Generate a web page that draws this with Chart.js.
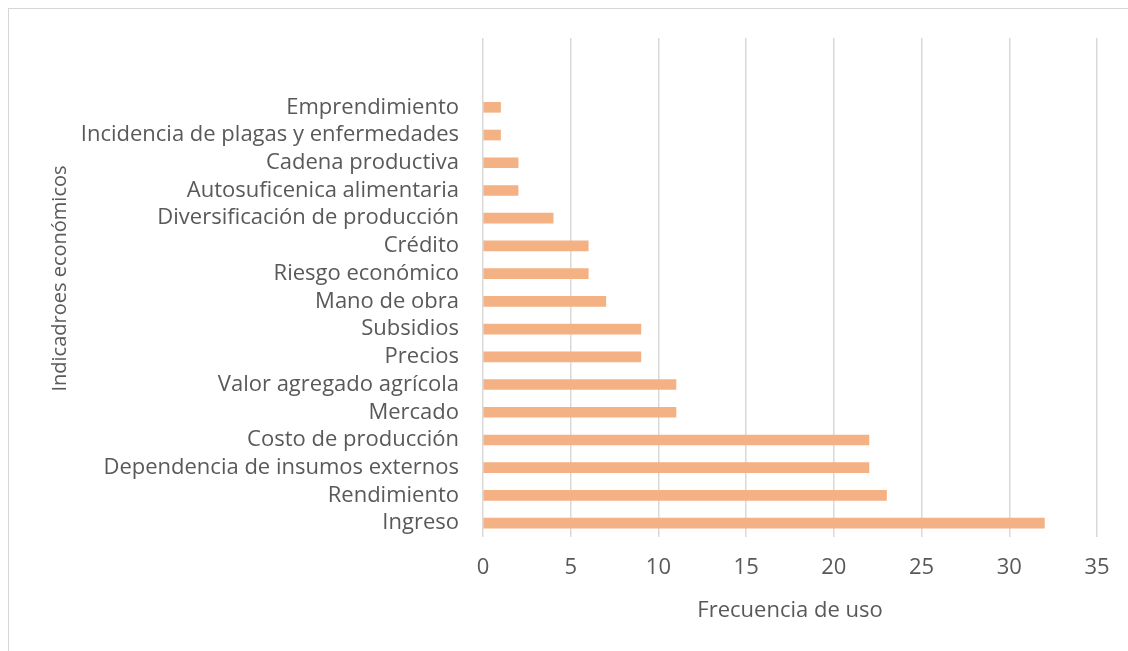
<!DOCTYPE html>
<html lang="es">
<head>
<meta charset="utf-8">
<title>Indicadores económicos – Frecuencia de uso</title>
<script src="https://cdn.jsdelivr.net/npm/chart.js@4.4.1/dist/chart.umd.min.js"></script>
<style>
  html, body { margin: 0; padding: 0; background: #fff; overflow: hidden; }
  .frame {
    position: absolute; left: 8px; top: 8px;
    width: 1200px; height: 700px;
    border-top: 1px solid #d6d6d6; border-left: 1px solid #d6d6d6;
  }
  #chart { position: absolute; left: 0; top: 0; }
</style>
</head>
<body>
<div class="frame"></div>
<canvas id="chart" width="1128" height="651"></canvas>
<script>
// Indicators, listed top to bottom as they appear on the vertical axis
const categories = [
  'Emprendimiento',
  'Incidencia de plagas y enfermedades',
  'Cadena productiva',
  'Autosuficenica alimentaria',
  'Diversificación de producción',
  'Crédito',
  'Riesgo económico',
  'Mano de obra',
  'Subsidios',
  'Precios',
  'Valor agregado agrícola',
  'Mercado',
  'Costo de producción',
  'Dependencia de insumos externos',
  'Rendimiento',
  'Ingreso'
];

// Frequency of use for each indicator
const frecuencia = [1, 1, 2, 2, 4, 6, 6, 7, 9, 9, 11, 11, 22, 22, 23, 32];

// Horizontal axis ticks
const xTicks = [0, 5, 10, 15, 20, 25, 30, 35];

// Two empty rows sit above the first indicator in the plot area
const blankRows = 2;
const labels = Array(blankRows).fill('').concat(categories);
const values = Array(blankRows).fill(null).concat(frecuencia);

const FONT = '"Open Sans", "Noto Sans", sans-serif';
const TEXT = '#595959';
const Y_TITLE = 'Indicadroes económicos';

// Vertical axis title, drawn rotated a little above the plot's middle
const yTitlePlugin = {
  id: 'yTitle',
  afterDraw(chart) {
    const { ctx, chartArea } = chart;
    ctx.save();
    ctx.translate(60, (chartArea.top + chartArea.bottom) / 2 - 9);
    ctx.rotate(-Math.PI / 2);
    ctx.font = '20px ' + FONT;
    ctx.fillStyle = TEXT;
    ctx.textAlign = 'center';
    ctx.textBaseline = 'middle';
    ctx.fillText(Y_TITLE, 0, 0);
    ctx.restore();
  }
};

new Chart(document.getElementById('chart'), {
  type: 'bar',
  data: {
    labels: labels,
    datasets: [{
      data: values,
      backgroundColor: '#F4B183',
      borderWidth: 0,
      barThickness: 10
    }]
  },
  options: {
    indexAxis: 'y',
    responsive: false,
    animation: false,
    layout: { padding: { top: 38, right: 31, bottom: 0, left: 0 } },
    plugins: { legend: { display: false }, tooltip: { enabled: false } },
    scales: {
      x: {
        type: 'linear',
        min: xTicks[0],
        max: xTicks[xTicks.length - 1],
        afterBuildTicks: s => { s.ticks = xTicks.map(v => ({ value: v })); },
        afterFit: s => { s.height = 114; },
        grid: { color: '#d9d9d9', lineWidth: 1.5, drawTicks: false },
        border: { display: false },
        ticks: { color: TEXT, padding: 18, font: { family: FONT, size: 22 } },
        title: {
          display: true,
          text: 'Frecuencia de uso',
          color: TEXT,
          font: { family: FONT, size: 22 },
          padding: { top: 0, bottom: 27 }
        }
      },
      y: {
        afterFit: s => { s.width = 483; },
        grid: { display: false, drawTicks: false },
        border: { display: false },
        ticks: { color: TEXT, padding: 24, autoSkip: false, font: { family: FONT, size: 22 } }
      }
    }
  },
  plugins: [yTitlePlugin]
});
</script>
</body>
</html>
